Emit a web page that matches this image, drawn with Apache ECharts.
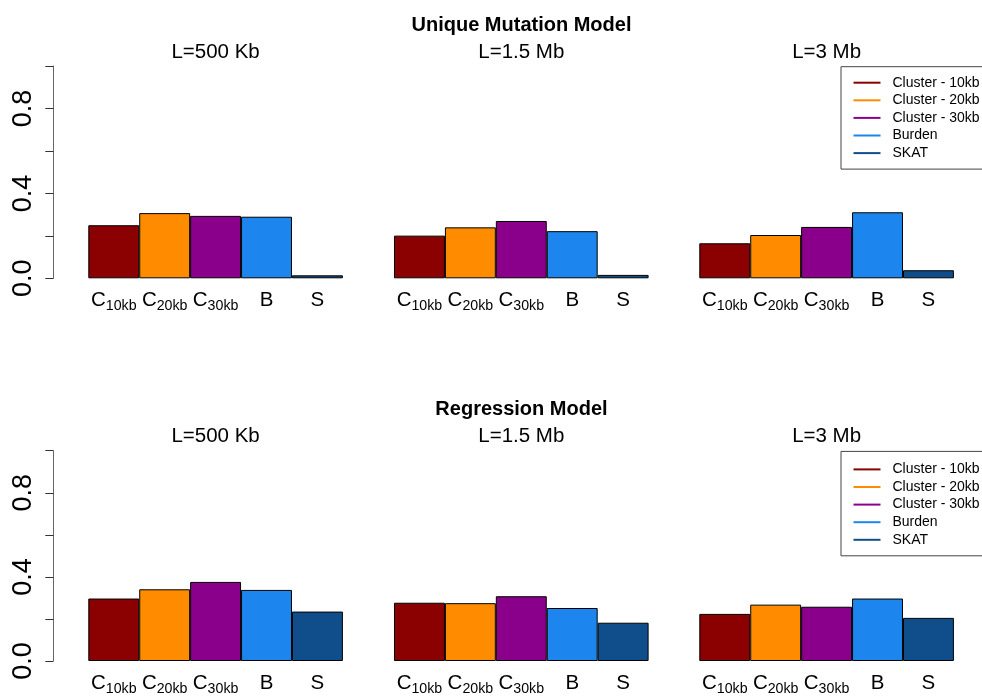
<!DOCTYPE html>
<html>
<head>
<meta charset="utf-8">
<script src="https://cdn.jsdelivr.net/npm/echarts@6/dist/echarts.min.js"></script>
<style>
  html, body { margin: 0; padding: 0; background: #fff; }
  #chart { width: 982px; height: 696px; }
</style>
</head>
<body>
<div id="chart"></div>
<script>
// Power of each test, by model and region length
const categories = ['C10kb', 'C20kb', 'C30kb', 'B', 'S'];
const methods = ['Cluster - 10kb', 'Cluster - 20kb', 'Cluster - 30kb', 'Burden', 'SKAT'];
const methodColors = ['#8B0000', '#FF8C00', '#8B008B', '#1C86EE', '#104E8B'];
const regionLengths = ['L=500 Kb', 'L=1.5 Mb', 'L=3 Mb'];
const modelTitles = ['Unique Mutation Model', 'Regression Model'];

const uniqueMutation500Kb = [0.250, 0.307, 0.294, 0.290, 0.014];
const uniqueMutation1500Kb = [0.201, 0.240, 0.270, 0.222, 0.016];
const uniqueMutation3Mb = [0.165, 0.204, 0.242, 0.311, 0.038];
const regression500Kb = [0.297, 0.341, 0.376, 0.338, 0.235];
const regression1500Kb = [0.277, 0.275, 0.308, 0.252, 0.182];
const regression3Mb = [0.224, 0.268, 0.258, 0.297, 0.205];

const yLabelled = ['0.0', '0.4', '0.8'];

const panelValues = [
  [uniqueMutation500Kb, uniqueMutation1500Kb, uniqueMutation3Mb],
  [regression500Kb, regression1500Kb, regression3Mb]
];

// Layout of the 2 x 3 panel grid
const FONT = '"Liberation Sans", Arial, Helvetica, sans-serif';
const colLeft = [88.3, 394, 699.3];
const colWidth = 254.6;
const rowTop = [66, 450.7];
const rowHeight = [212.3, 213.3];
const legendPadTop = [9, 11];

const grids = [], xAxes = [], yAxes = [], series = [], titles = [], legends = [];

modelTitles.forEach((model, r) => {
  titles.push({
    text: model, left: 521.5, top: rowTop[r] - 51, textAlign: 'center', padding: 0,
    textStyle: { fontFamily: FONT, fontSize: 20, fontWeight: 'bold', color: '#000' }
  });
  regionLengths.forEach((len, c) => {
    const idx = r * 3 + c;
    titles.push({
      text: len, left: colLeft[c] + colWidth / 2, top: rowTop[r] - 24.5, textAlign: 'center', padding: 0,
      textStyle: { fontFamily: FONT, fontSize: 20.5, fontWeight: 'normal', color: '#000' }
    });
    grids.push({ left: colLeft[c], top: rowTop[r], width: colWidth, height: rowHeight[r], containLabel: false });
    xAxes.push({
      type: 'category', gridIndex: idx, data: categories,
      axisLine: { show: false }, axisTick: { show: false },
      axisLabel: {
        interval: 0, margin: 11, color: '#000', fontFamily: FONT,
        formatter: v => {
          const m = /^([A-Z])(\d+kb)$/.exec(v);
          return m ? '{c|' + m[1] + '}{s|' + m[2] + '}' : '{c|' + v + '}';
        },
        rich: {
          c: { fontSize: 20.5, fontFamily: FONT, color: '#000', lineHeight: 22 },
          s: { fontSize: 14.2, fontFamily: FONT, color: '#000', lineHeight: 22, padding: [12, 0, 0, 0] }
        }
      }
    });
    yAxes.push({
      type: 'value', gridIndex: idx, min: 0, max: 1, interval: 0.2,
      show: c === 0, offset: 35,
      splitLine: { show: false },
      axisLine: { show: true, lineStyle: { color: '#666', width: 1 } },
      axisTick: { show: true, length: 8, lineStyle: { color: '#333' } },
      axisLabel: {
        rotate: 90, margin: 16, fontSize: 27, fontFamily: FONT, color: '#000',
        formatter: v => {
          const s = v.toFixed(1);
          return yLabelled.includes(s) ? s : '';
        }
      }
    });
    methods.forEach((name, k) => {
      series.push({
        type: 'bar', name: name, xAxisIndex: idx, yAxisIndex: idx,
        barGap: '-100%', barCategoryGap: 0,
        data: categories.map((_, j) => (j === k ? panelValues[r][c][j] : '-')),
        itemStyle: { color: methodColors[k], borderColor: '#000', borderWidth: 1 },
        silent: true, animation: false
      });
    });
  });
  legends.push({
    data: methods, orient: 'vertical', left: 841, top: rowTop[r] + 0.7,
    selectedMode: false, icon: 'rect', itemWidth: 27, itemHeight: 2, itemGap: 3.6,
    itemStyle: { borderWidth: 0 },
    padding: [legendPadTop[r], 14, 9, 12.5], borderColor: '#444', borderWidth: 1,
    textStyle: { fontFamily: FONT, fontSize: 14, color: '#000', padding: [0, 0, 0, 7] }
  });
});

const chart = echarts.init(document.getElementById('chart'), null, { renderer: 'canvas' });
chart.setOption({
  animation: false,
  backgroundColor: '#fff',
  title: titles,
  legend: legends,
  grid: grids,
  xAxis: xAxes,
  yAxis: yAxes,
  series: series
});
</script>
</body>
</html>
